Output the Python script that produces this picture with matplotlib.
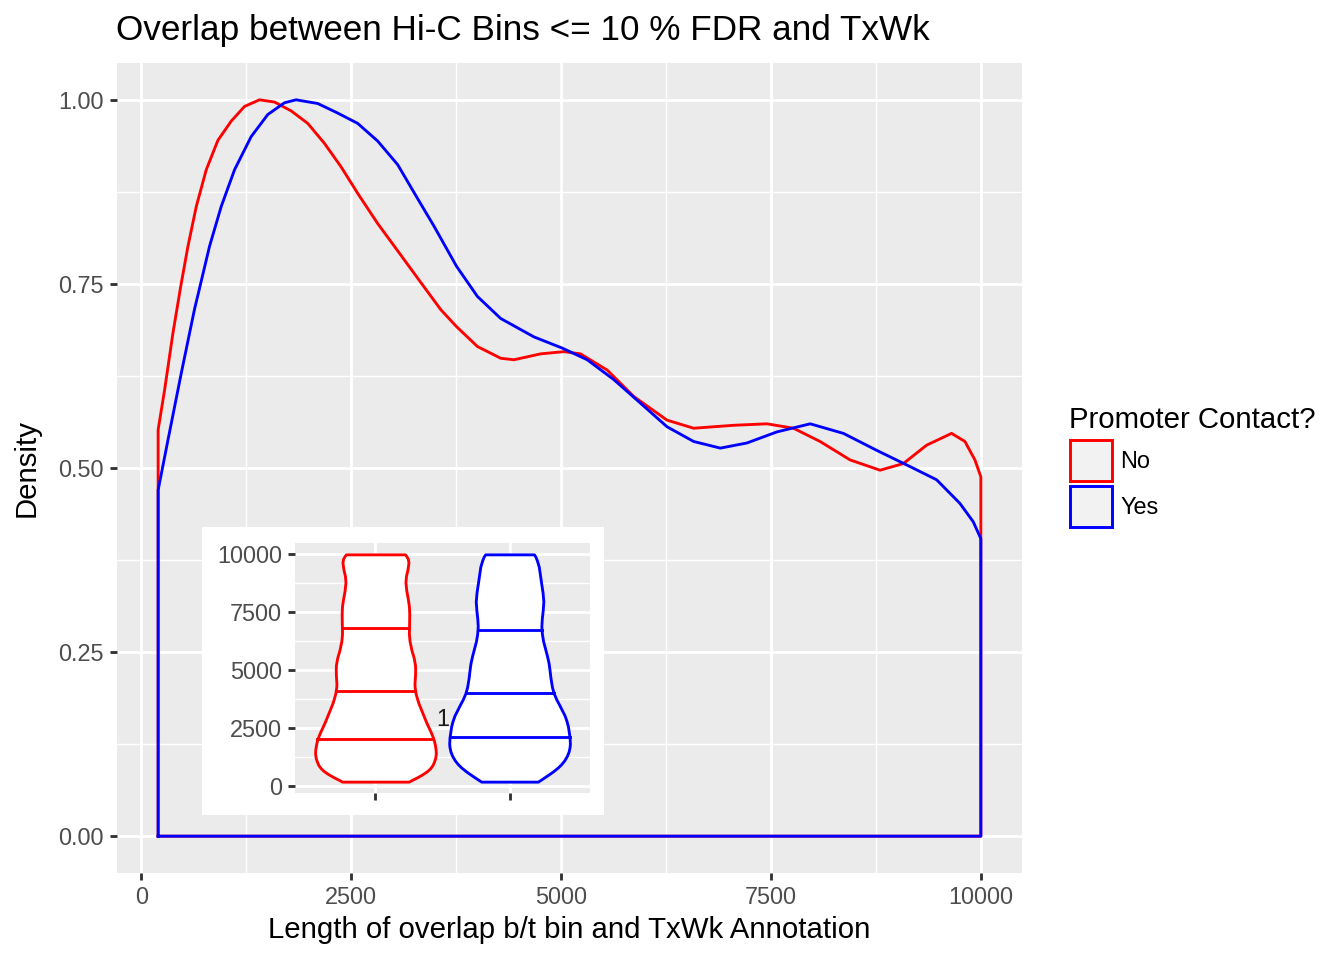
import matplotlib
matplotlib.use("Agg")
import matplotlib.pyplot as plt
import numpy as np
from matplotlib.patches import Rectangle
from matplotlib.ticker import FixedLocator

plt.rcParams['font.family'] = ['Liberation Sans', 'DejaVu Sans']

# scaled density curves
red_x = [200, 277, 376, 468, 555, 654, 773, 912, 1070, 1229, 1407, 1586, 1784,
         1982, 2180, 2379, 2577, 2815, 3053, 3290, 3567, 3754, 4003, 4281, 4439,
         4756, 5033, 5231, 5549, 5866, 6262, 6579, 7055, 7451, 7768, 8085, 8442,
         8799, 9076, 9354, 9651, 9810, 9929, 10000]
red_y = [0.552, 0.606, 0.683, 0.746, 0.801, 0.855, 0.905, 0.945, 0.971, 0.991,
         1.000, 0.997, 0.985, 0.968, 0.941, 0.909, 0.873, 0.832, 0.795, 0.758,
         0.715, 0.692, 0.665, 0.649, 0.647, 0.655, 0.658, 0.655, 0.633, 0.597,
         0.565, 0.554, 0.558, 0.560, 0.554, 0.536, 0.511, 0.497, 0.506, 0.531,
         0.547, 0.536, 0.511, 0.488]

blue_x = [200, 317, 476, 634, 693, 812, 951, 1110, 1308, 1506, 1705, 1843, 2101,
          2339, 2577, 2815, 3053, 3290, 3488, 3754, 4003, 4281, 4677, 5010, 5311,
          5628, 5906, 6262, 6579, 6897, 7214, 7570, 7967, 8363, 8759, 9155, 9473,
          9750, 9909, 10000]
blue_y = [0.470, 0.538, 0.629, 0.716, 0.744, 0.801, 0.855, 0.905, 0.950, 0.980,
          0.996, 1.000, 0.995, 0.982, 0.968, 0.944, 0.912, 0.866, 0.828, 0.774,
          0.733, 0.703, 0.678, 0.663, 0.647, 0.620, 0.592, 0.556, 0.536, 0.527,
          0.534, 0.549, 0.560, 0.547, 0.524, 0.502, 0.484, 0.452, 0.427, 0.404]

# violin quantile lines (25/50/75 %)
red_q = [2029, 4114, 6829]
blue_q = [2114, 4043, 6757]

groups = ["No", "Yes"]
colors = ["#FF0000", "#0000FF"]
xs = [red_x, blue_x]
ys = [red_y, blue_y]
qs = [red_q, blue_q]

x_ticks = [0, 2500, 5000, 7500, 10000]
x_minor = [1250, 3750, 6250, 8750]
y_ticks = [0.0, 0.25, 0.5, 0.75, 1.0]
y_minor = [0.125, 0.375, 0.625, 0.875]

W, H = 1344, 960
DPI = 192
fig = plt.figure(figsize=(W / DPI, H / DPI), dpi=DPI)

def fx(px):
    return px / W

def fy(py):
    return 1 - py / H

lw = 1.07
tick_kw = dict(length=2.75, width=lw, color="#333333", labelcolor="#4D4D4D",
               labelsize=8.8, pad=2.2)

ax = fig.add_axes([fx(117), fy(873), fx(1022) - fx(117), fy(63) - fy(873)])
ax.set_facecolor("#EBEBEB")
for s in ax.spines.values():
    s.set_visible(False)
ax.set_xlim(-290, 10490)
ax.set_ylim(-0.05, 1.05)
ax.xaxis.set_major_locator(FixedLocator(x_ticks))
ax.xaxis.set_minor_locator(FixedLocator(x_minor))
ax.yaxis.set_major_locator(FixedLocator(y_ticks))
ax.yaxis.set_minor_locator(FixedLocator(y_minor))
ax.set_xticklabels([str(v) for v in x_ticks])
ax.set_yticklabels([f"{v:.2f}" for v in y_ticks])
ax.grid(which="major", color="white", lw=lw)
ax.grid(which="minor", color="white", lw=lw / 2)
ax.set_axisbelow(True)
ax.tick_params(which="major", **tick_kw)
ax.tick_params(which="minor", length=0)

for x, y, c in zip(xs, ys, colors):
    px = [x[0]] + x + [x[-1], x[0]]
    py = [0] + y + [0, 0]
    ax.plot(px, py, color=c, lw=lw, solid_joinstyle="round")

fig.text(fx(116), fy(40), "Overlap between Hi-C Bins <= 10 % FDR and TxWk",
         fontsize=13.2, va="baseline", ha="left")
fig.text(fx(569.5), fy(938), "Length of overlap b/t bin and TxWk Annotation",
         fontsize=11, va="baseline", ha="center")
fig.text(fx(27), fy(468), "Density", fontsize=11, rotation=90,
         va="center", ha="center")

# legend
fig.text(fx(1069), fy(428), "Promoter Contact?", fontsize=11, va="baseline")
key_tops = [440, 486]
for g, c, top in zip(groups, colors, key_tops):
    fig.add_artist(Rectangle((fx(1070), fy(top + 41)), fx(42), 41 / H,
                             transform=fig.transFigure, facecolor="#F2F2F2",
                             edgecolor=c, lw=1.1))
    fig.text(fx(1120), fy(top + 22), g, fontsize=8.8, va="center")

# inset background
ax.add_patch(Rectangle((fx(202), fy(815)), fx(402), 288 / H,
                       transform=fig.transFigure, facecolor="white",
                       edgecolor="none", zorder=10, clip_on=False))

ins = fig.add_axes([fx(295), fy(793), fx(295), 250 / H])
ins.set_facecolor("#EBEBEB")
for s in ins.spines.values():
    s.set_visible(False)
ins.set_xlim(0.4, 2.6)
ins.set_ylim(-290, 10490)
ins.set_xticks([1, 2])
ins.set_xticklabels(["", ""])
ins.yaxis.set_major_locator(FixedLocator(x_ticks))
ins.yaxis.set_minor_locator(FixedLocator(x_minor))
ins.set_yticklabels([str(v) for v in x_ticks])
ins.grid(which="major", color="white", lw=lw)
ins.grid(which="minor", axis="y", color="white", lw=lw / 2)
ins.set_axisbelow(True)
ins.tick_params(which="major", **tick_kw)
ins.tick_params(which="minor", length=0)

for i, (x, y, q, c) in enumerate(zip(xs, ys, qs, colors)):
    pos = i + 1
    hw = 0.45 * np.array(y) / max(y)
    ins.fill_betweenx(x, pos - hw, pos + hw, facecolor="white", edgecolor=c,
                      lw=lw)
    for v in q:
        w = np.interp(v, x, hw)
        ins.plot([pos - w, pos + w], [v, v], color=c, lw=lw)

ins.text(1.5, 2900, "1", fontsize=8.8, color="#1A1A1A", ha="center",
         va="center")

fig.savefig("out.png", dpi=DPI)
